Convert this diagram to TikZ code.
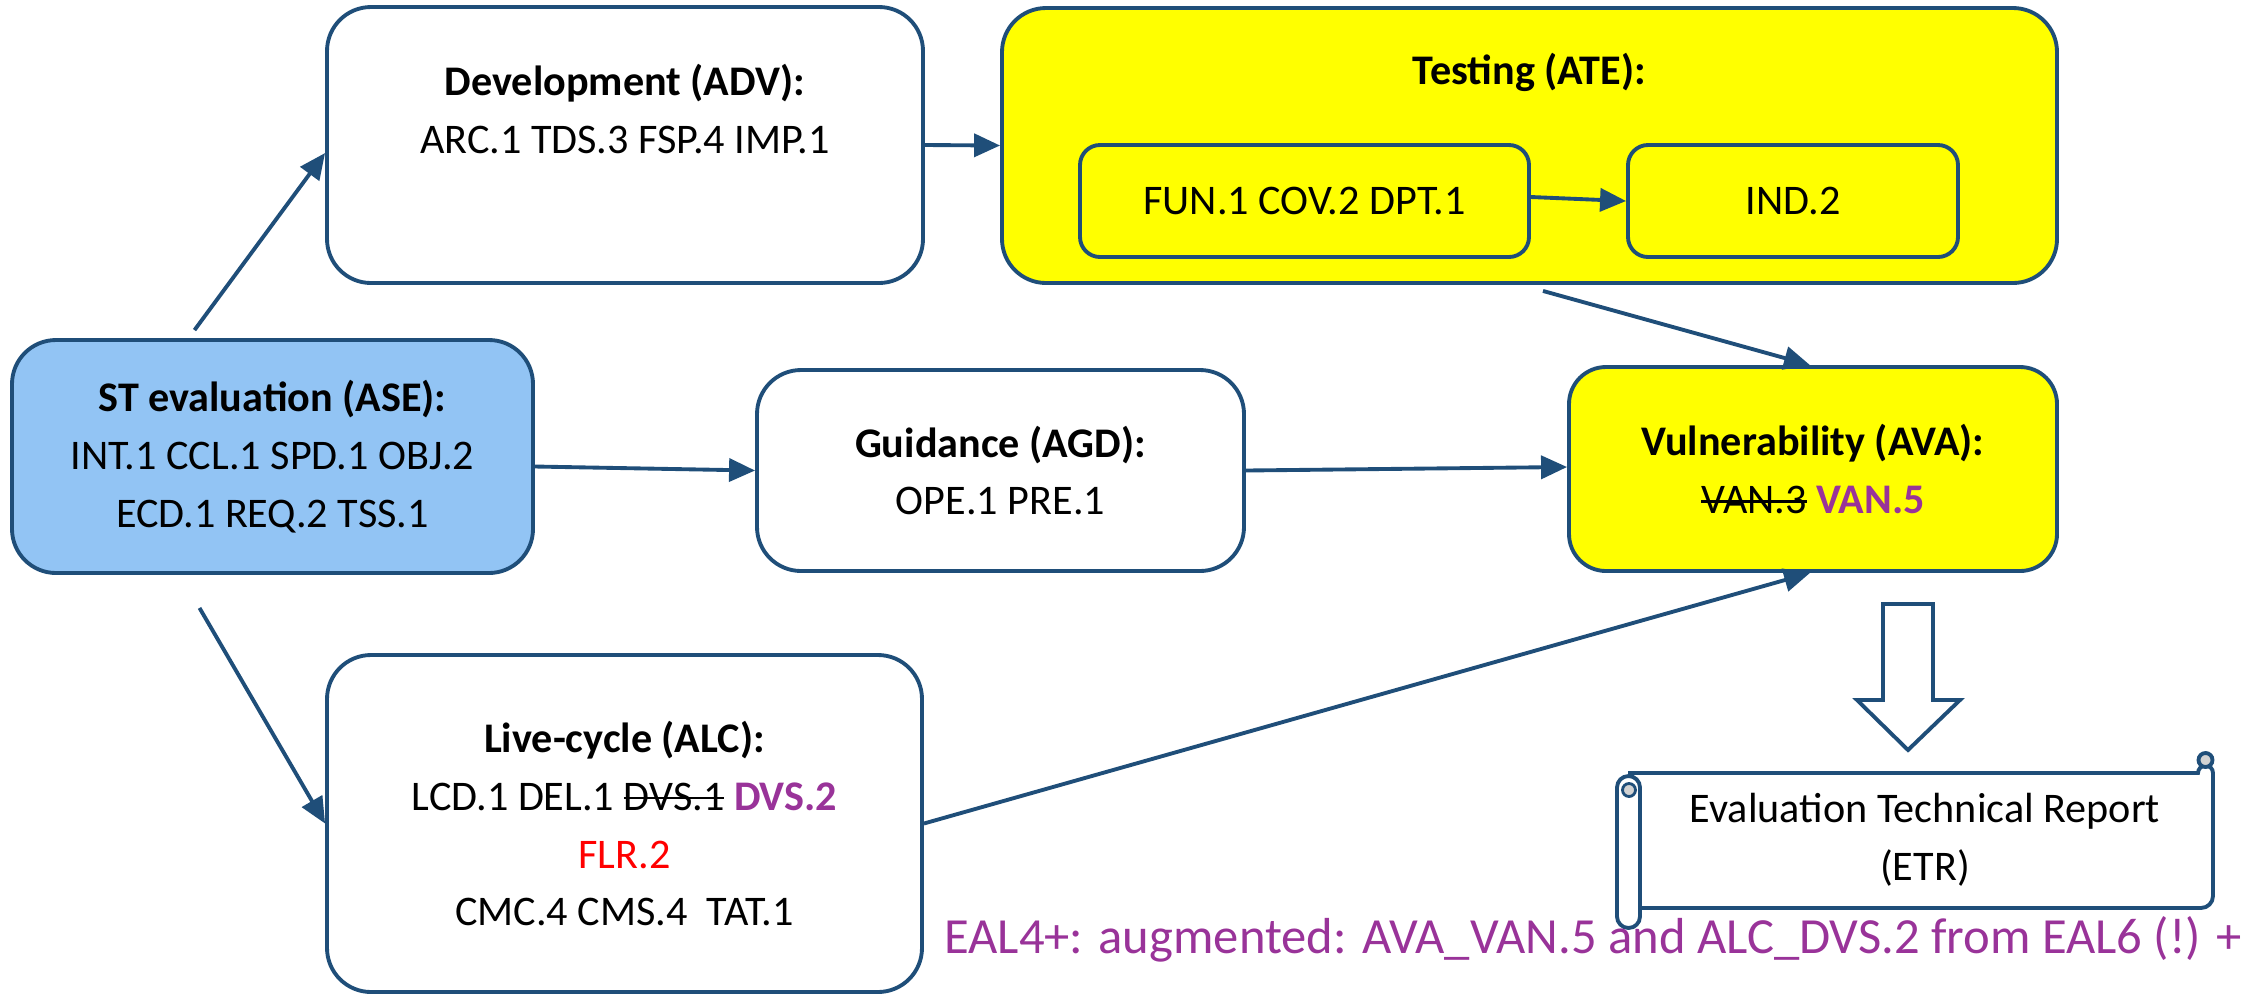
\documentclass[tikz,border=0pt]{standalone}
\usepackage{fontspec}
\setmainfont{Carlito}
\usetikzlibrary{arrows.meta,positioning,calc}
\definecolor{edgeblue}{HTML}{1F4E79}
\definecolor{skyfill}{HTML}{92C4F4}
\definecolor{evalyellow}{HTML}{FFFF00}
\definecolor{augviolet}{HTML}{993399}
\newcommand{\struck}[1]{\leavevmode\setbox0\hbox{#1}\rlap{\rule[0.25em]{\wd0}{0.07em}}\box0\relax}

\begin{document}
\begin{tikzpicture}[
    every node/.style={font=\fontsize{12}{16.5}\selectfont},
    phase/.style={rectangle, rounded corners=4.4mm, draw=edgeblue, line width=1.1pt,
        fill=white, align=center, inner sep=2pt},
    subphase/.style={rectangle, rounded corners=2mm, draw=edgeblue, line width=1.1pt,
        fill=evalyellow, align=center, minimum height=1.12cm},
    flow/.style={-{Triangle[length=2.6mm, width=2.3mm]}, line width=1.1pt, draw=edgeblue},
    outline/.style={draw=edgeblue, line width=1.1pt, fill=white},
]
\useasboundingbox (0,0) rectangle (22.48,-9.95);

% Evaluation classes
\node[phase, fill=skyfill, minimum width=5.21cm, minimum height=2.33cm] (ase) at (2.725,-4.565)
    {\textbf{ST evaluation (ASE):}\\INT.1 CCL.1 SPD.1 OBJ.2\\ECD.1 REQ.2 TSS.1};
\node[phase, minimum width=5.96cm, minimum height=2.76cm] (adv) at (6.25,-1.45)
    {\textbf{Development (ADV):}\\ARC.1 TDS.3 FSP.4 IMP.1\\[4pt]~};
\node[phase, minimum width=4.87cm, minimum height=2.01cm] (agd) at (10.005,-4.705)
    {\textbf{Guidance (AGD):}\\OPE.1 PRE.1};
\node[phase, minimum width=5.95cm, minimum height=3.37cm] (alc) at (6.245,-8.235)
    {\textbf{Live-cycle (ALC):}\\LCD.1 DEL.1 \struck{DVS.1} \textcolor{augviolet}{\textbf{DVS.2}}\\
     \textcolor{red}{FLR.2}\\CMC.4 CMS.4\ \ TAT.1};
\node[phase, fill=evalyellow, rounded corners=3.7mm, minimum width=4.88cm, minimum height=2.04cm] (ava) at (18.13,-4.69)
    {\textbf{Vulnerability (AVA):}\\\struck{VAN.3} \textcolor{augviolet}{\textbf{VAN.5}}};

% Testing with its two steps
\node[phase, fill=evalyellow, minimum width=10.55cm, minimum height=2.75cm] (ate) at (15.295,-1.455) {};
\node[font=\fontsize{12}{16.5}\selectfont\bfseries] (atetitle) at ([yshift=-6.6mm]ate.north) {Testing (ATE):};
\node[subphase, minimum width=4.49cm] (fun) at (13.045,-2.01) {FUN.1 COV.2 DPT.1};
\node[subphase, minimum width=3.30cm] (ind) at (17.93,-2.01) {IND.2};

% Connectors
\draw[flow] ([shift={(-0.78,0.08)}]ase.north) -- ([yshift=-0.08cm]adv.west);
\draw[flow] ([shift={(-0.73,-0.33)}]ase.south) -- (alc.west);
\draw[flow] ([yshift=-0.1cm]ase.east) -- (agd.west);
\draw[flow] (adv.east) -- (ate.west);
\draw[flow] ([yshift=0.04cm]fun.east) -- (ind.west);
\draw[flow] ([shift={(0.135,-0.06)}]ate.south) -- ([xshift=-0.03cm]ava.north);
\draw[flow] (agd.east) -- ([yshift=0.02cm]ava.west);
\draw[flow] (alc.east) -- ([xshift=-0.03cm]ava.south);

% Block arrow to the report
\draw[outline] (18.83,-6.04) -- (19.33,-6.04) -- (19.33,-7.00) -- (19.60,-7.00)
    -- (19.08,-7.50) -- (18.57,-7.00) -- (18.83,-7.00) -- cycle;

% Report scroll
\draw[outline] (16.28,-7.73) -- (21.98,-7.73) arc[start angle=180, end angle=0, radius=0.075]
    -- (22.13,-8.96) arc[start angle=0, end angle=-90, radius=0.12] -- (16.40,-9.08);
\draw[draw=edgeblue, line width=1.1pt, fill=gray!35] (22.055,-7.60) circle (0.07);
\draw[outline, rounded corners=1.15mm] (16.17,-7.76) rectangle (16.40,-9.28);
\draw[draw=edgeblue, line width=0.8pt, fill=gray!35] (16.29,-7.90) circle (0.065);
\node (etr) at (19.25,-8.40) [align=center] {Evaluation Technical Report\\(ETR)};

% Augmentation note
\node[font=\fontsize{14.4}{17}\selectfont, text=augviolet] (note) at (15.93,-9.39)
    {EAL4+: augmented: AVA\_VAN.5 and ALC\_DVS.2 from EAL6 (!) +};
\end{tikzpicture}
\end{document}
